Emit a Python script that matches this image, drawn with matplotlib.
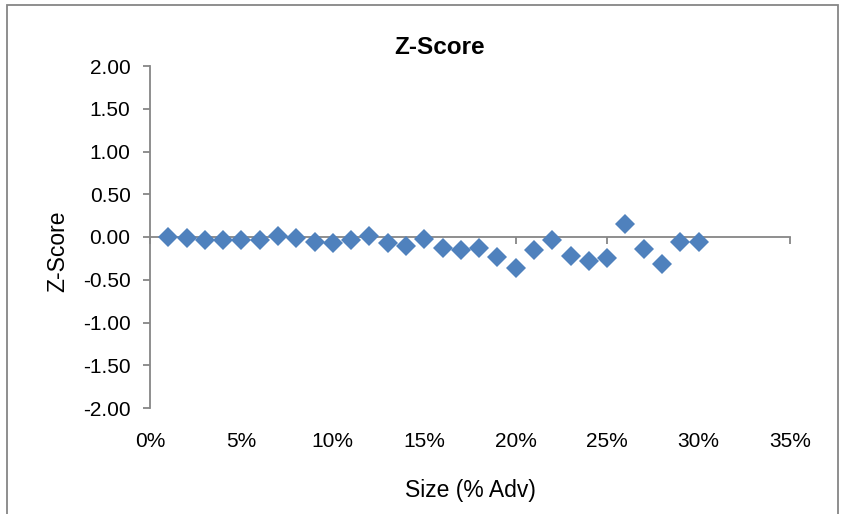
import matplotlib.pyplot as plt
from matplotlib.patches import Rectangle
from matplotlib.ticker import FuncFormatter

plt.rcParams['font.family'] = ['Liberation Sans', 'DejaVu Sans']

# order size as % of ADV, and the z-score at each size
size_pct = [1, 2, 3, 4, 5, 6, 7, 8, 9, 10, 11, 12, 13, 14, 15,
            16, 17, 18, 19, 20, 21, 22, 23, 24, 25, 26, 27, 28, 29, 30]
z_score = [0.00, -0.01, -0.03, -0.035, -0.03, -0.04, 0.01, -0.01, -0.06, -0.075,
           -0.03, 0.01, -0.075, -0.10, -0.02, -0.125, -0.15, -0.125, -0.23, -0.36,
           -0.15, -0.035, -0.22, -0.28, -0.24, 0.155, -0.135, -0.31, -0.06, -0.06]

x_ticks = [0, 5, 10, 15, 20, 25, 30, 35]
y_ticks = [-2.0, -1.5, -1.0, -0.5, 0.0, 0.5, 1.0, 1.5, 2.0]

axis_grey = '#868686'
blue = '#4F81BD'

fig = plt.figure(figsize=(8.44, 5.14), dpi=100)
ax = fig.add_axes([150 / 844, 1 - 408 / 514, 640 / 844, 342 / 514])

ax.plot(size_pct, z_score, linestyle='none', marker='D', markersize=10.5,
        color=blue, markeredgewidth=0, zorder=3)

ax.set_xlim(0, 35)
ax.set_ylim(-2, 2)
ax.set_xticks(x_ticks)
ax.set_yticks(y_ticks)
ax.xaxis.set_major_formatter(FuncFormatter(lambda v, p: f'{v:.0f}%'))
ax.yaxis.set_major_formatter(FuncFormatter(lambda v, p: f'{v:.2f}'))

for side in ['top', 'right', 'bottom']:
    ax.spines[side].set_visible(False)
ax.spines['left'].set_color(axis_grey)
ax.spines['left'].set_linewidth(1.3)

ax.tick_params(axis='y', direction='out', length=5, width=1.3, color=axis_grey,
               labelsize=15, pad=9)
ax.tick_params(axis='x', length=0, labelsize=15, pad=17)

# horizontal axis line crosses at zero with its own tick marks
zero_axis = ax.secondary_xaxis(0.5)
zero_axis.set_xticks(x_ticks)
zero_axis.set_xticklabels([])
for sp in zero_axis.spines.values():
    sp.set_color(axis_grey)
    sp.set_linewidth(1.3)
zero_axis.tick_params(direction='in', length=5, width=1.3, color=axis_grey)

fig.text(470 / 844, 1 - 490 / 514, 'Size (% Adv)', ha='center', va='center',
         fontsize=16.5)
fig.text(58 / 844, 1 - 251 / 514, 'Z-Score', ha='center', va='center',
         rotation=90, fontsize=16.5)
fig.text(440 / 844, 1 - 47 / 514, 'Z-Score', ha='center', va='center',
         fontsize=17.5, fontweight='bold')

fig.patches.append(Rectangle((7 / 844, -0.05), 831 / 844, 1 - 5 / 514 + 0.05,
                             transform=fig.transFigure, fill=False,
                             edgecolor=axis_grey, linewidth=1.3))

fig.savefig('out.png', dpi=100)
